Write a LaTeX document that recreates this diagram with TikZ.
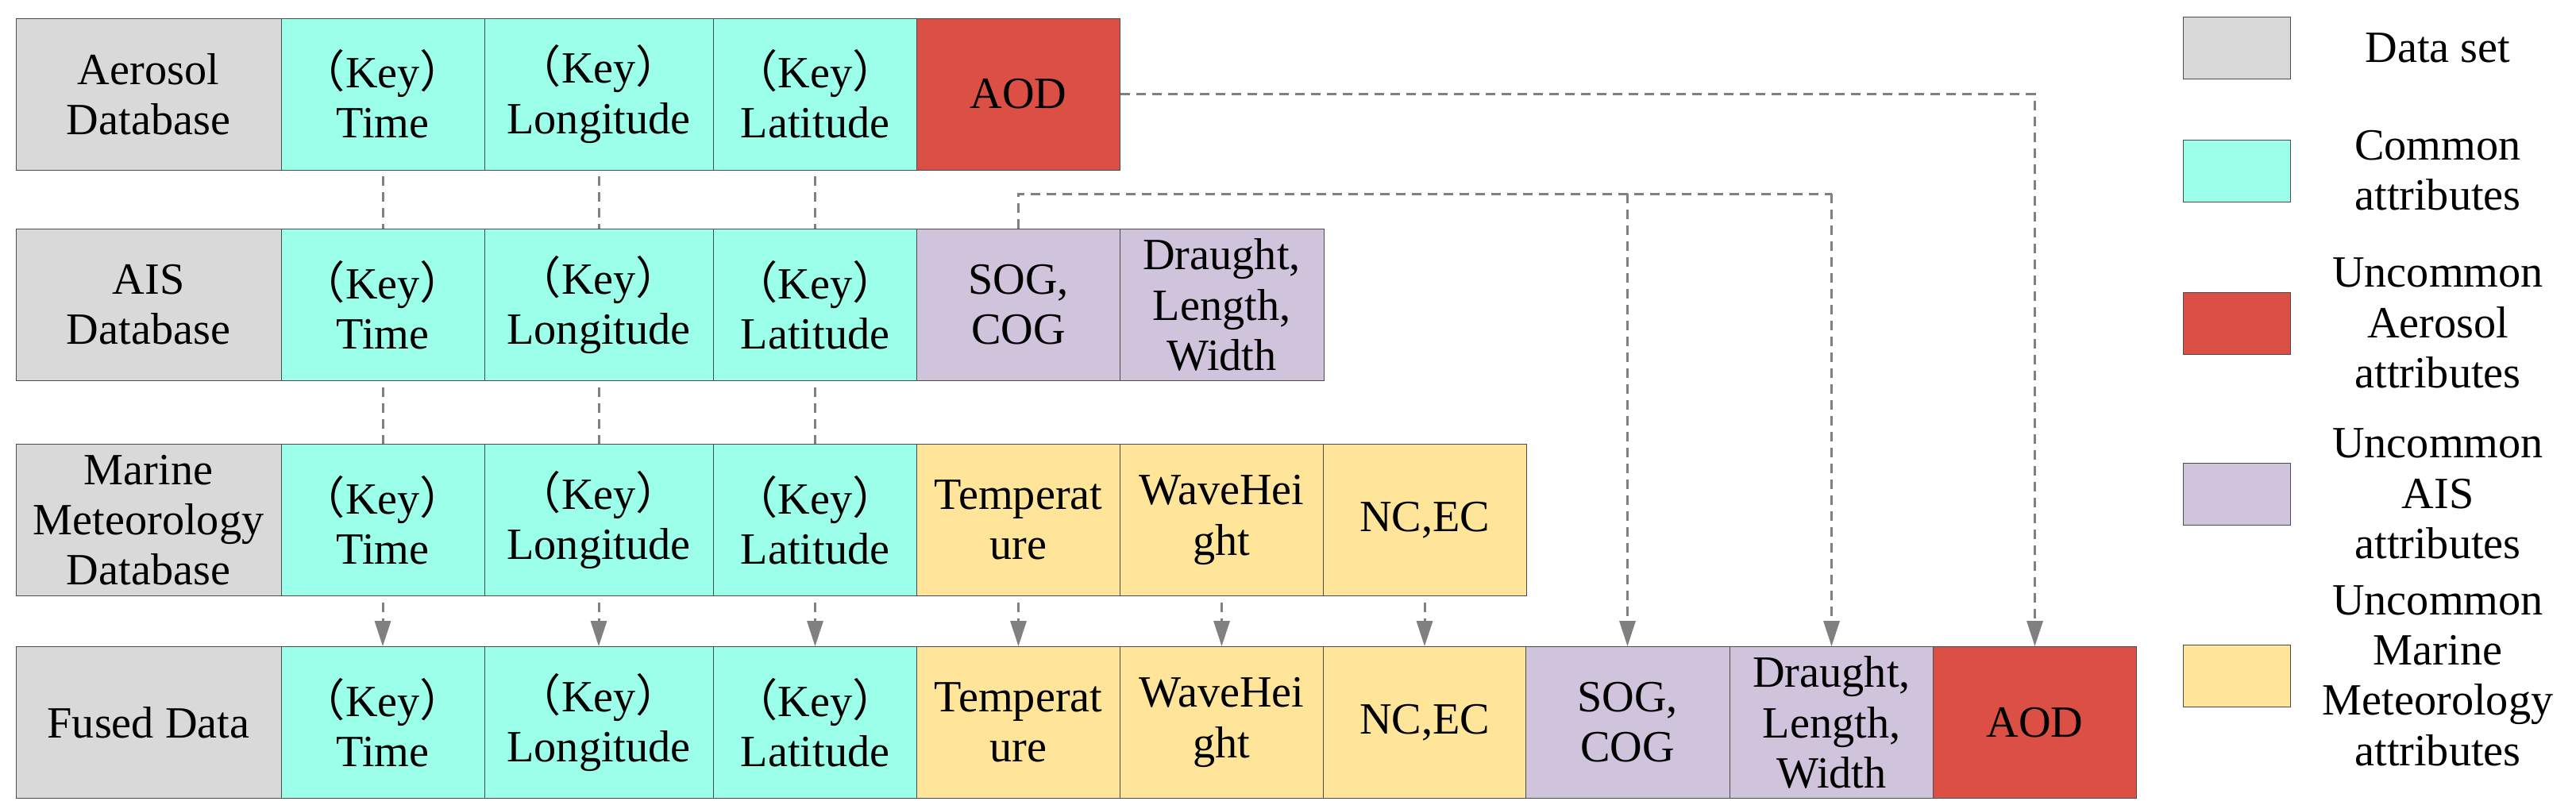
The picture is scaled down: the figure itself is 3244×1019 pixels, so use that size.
\documentclass[tikz,border=0pt]{standalone}
\usepackage{fontspec}
\setmainfont{Liberation Serif}
\newfontfamily\cjk{Noto Sans CJK SC}
\usetikzlibrary{arrows.meta}
\definecolor{cgray}{HTML}{D9D9D9}
\definecolor{ccyan}{HTML}{9BFFE9}
\definecolor{cred}{HTML}{DC4F45}
\definecolor{cpurp}{HTML}{D0C3DC}
\definecolor{cyell}{HTML}{FFE599}
\definecolor{cline}{HTML}{808080}
\newcommand{\K}[1]{{\cjk （}Key{\cjk ）}\\#1}
\begin{document}
\begin{tikzpicture}[x=0.25mm,y=-0.25mm,
  every node/.style={font=\fontsize{40}{45}\selectfont},
  cell/.style={draw=black!70,line width=0.5pt,inner sep=0pt,minimum height=47.75mm,align=center,anchor=center},
  w0/.style={cell,minimum width=83.5mm},
  w1/.style={cell,minimum width=64mm},
  w2/.style={cell,minimum width=72mm},
  w3/.style={cell,minimum width=64.25mm},
  leg/.style={draw=black!70,line width=0.5pt,minimum width=33.75mm,minimum height=19.5mm,inner sep=0pt},
  ltxt/.style={align=center},
  con/.style={draw=cline,line width=0.75mm,dash pattern=on 3mm off 2mm},
  arr/.style={con,-{Triangle[length=8mm,width=5mm]}}]
\useasboundingbox (0,0) rectangle (3244,1019);
% row 1
\node[w0,fill=cgray] (a0) at (187,118.5) {Aerosol\\Database};
\node[w1,fill=ccyan] (a1) at (482,118.5) {\K{Time}};
\node[w2,fill=ccyan] (a2) at (754,118.5) {\K{Longitude}};
\node[w3,fill=ccyan] (a3) at (1026.5,118.5) {\K{Latitude}};
\node[w1,fill=cred] (a9) at (1282.5,118.5) {AOD};
% row 2
\node[w0,fill=cgray] (b0) at (187,384) {AIS\\Database};
\node[w1,fill=ccyan] (b1) at (482,384) {\K{Time}};
\node[w2,fill=ccyan] (b2) at (754,384) {\K{Longitude}};
\node[w3,fill=ccyan] (b3) at (1026.5,384) {\K{Latitude}};
\node[w1,fill=cpurp] (b7) at (1282.5,384) {SOG,\\COG};
\node[w3,fill=cpurp] (b8) at (1538.5,384) {Draught,\\Length,\\Width};
% row 3
\node[w0,fill=cgray] (c0) at (187,655) {Marine\\Meteorology\\Database};
\node[w1,fill=ccyan] (c1) at (482,655) {\K{Time}};
\node[w2,fill=ccyan] (c2) at (754,655) {\K{Longitude}};
\node[w3,fill=ccyan] (c3) at (1026.5,655) {\K{Latitude}};
\node[w1,fill=cyell] (c4) at (1282.5,655) {Temperat\\ure};
\node[w3,fill=cyell] (c5) at (1538.5,655) {WaveHei\\ght};
\node[w1,fill=cyell] (c6) at (1794,655) {NC,EC};
% row 4
\node[w0,fill=cgray] (d0) at (187,910) {Fused Data};
\node[w1,fill=ccyan] (d1) at (482,910) {\K{Time}};
\node[w2,fill=ccyan] (d2) at (754,910) {\K{Longitude}};
\node[w3,fill=ccyan] (d3) at (1026.5,910) {\K{Latitude}};
\node[w1,fill=cyell] (d4) at (1282.5,910) {Temperat\\ure};
\node[w3,fill=cyell] (d5) at (1538.5,910) {WaveHei\\ght};
\node[w1,fill=cyell] (d6) at (1794,910) {NC,EC};
\node[w3,fill=cpurp] (d7) at (2049.5,910) {SOG,\\COG};
\node[w3,fill=cpurp] (d8) at (2306.5,910) {Draught,\\Length,\\Width};
\node[w1,fill=cred] (d9) at (2562.5,910) {AOD};
% legend
\node[leg,fill=cgray] (l1) at (2816.5,60) {};
\node[leg,fill=ccyan] (l2) at (2816.5,215) {};
\node[leg,fill=cred] (l3) at (2816.5,407) {};
\node[leg,fill=cpurp] (l4) at (2816.5,622) {};
\node[leg,fill=cyell] (l5) at (2816.5,851) {};
\node[ltxt] (t1) at (3070,60) {Data set};
\node[ltxt] (t2) at (3070,215) {Common\\attributes};
\node[ltxt] (t3) at (3070,407) {Uncommon\\Aerosol\\attributes};
\node[ltxt] (t4) at (3070,622) {Uncommon\\AIS\\attributes};
\node[ltxt] (t5) at (3070,851) {Uncommon\\Marine\\Meteorology\\attributes};
% connectors
\foreach \i in {1,2,3}{
  \draw[con] ([yshift=-2mm]a\i.south) -- (b\i.north);
  \draw[con] ([yshift=-2mm]b\i.south) -- (c\i.north);
  \draw[arr] ([yshift=-2mm]c\i.south) -- (d\i.north);
}
\foreach \i in {4,5,6}{
  \draw[arr] ([yshift=-2mm]c\i.south) -- (d\i.north);
}
\draw[arr] (a9.east) -| (d9.north);
\coordinate (j) at (2306.5,244);
\coordinate (k) at (2049.5,244);
\draw[con] (b7.north) |- (j);
\draw[arr] (j) -- (d8.north);
\draw[arr] (k) -- (d7.north);
\end{tikzpicture}
\end{document}
